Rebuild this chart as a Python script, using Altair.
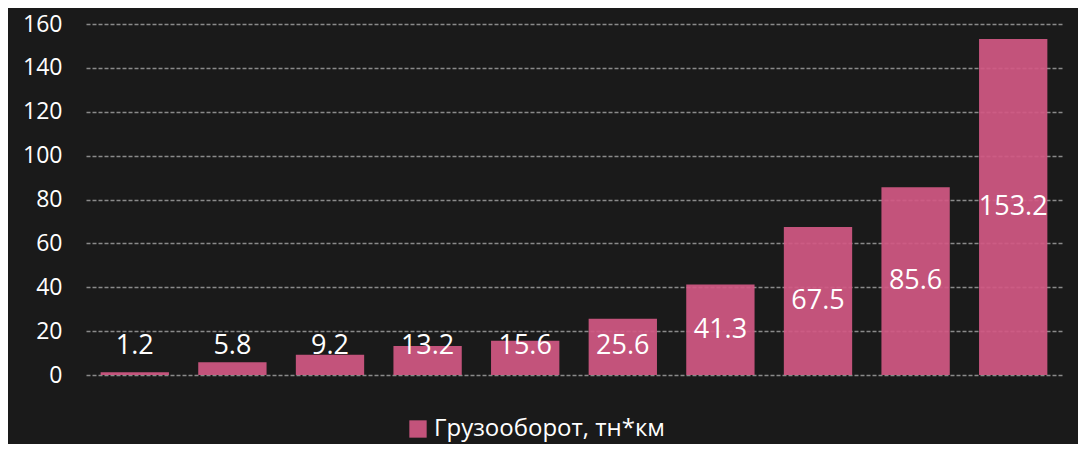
import altair as alt
import pandas as pd

categories = ["c1", "c2", "c3", "c4", "c5", "c6", "c7", "c8", "c9", "c10"]
values = [1.2, 5.8, 9.2, 13.2, 15.6, 25.6, 41.3, 67.5, 85.6, 153.2]
labels = ["1.2", "5.8", "9.2", "13.2", "15.6", "25.6", "41.3", "67.5", "85.6", "153.2"]
series = "Грузооборот, тн*км"
y_ticks = [0, 20, 40, 60, 80, 100, 120, 140, 160]

df = pd.DataFrame({"cat": categories, "value": values, "label": labels, "series": [series] * len(values)})

FONT = "Open Sans"
BAR = "#d15883"

base = alt.Chart(df).encode(
    x=alt.X("cat:N", sort=categories, axis=None,
            scale=alt.Scale(paddingInner=0.3, paddingOuter=0.15)),
)

bars = base.mark_bar(opacity=0.93).encode(
    y=alt.Y("value:Q", scale=alt.Scale(domain=[0, 160], nice=False),
            axis=alt.Axis(values=y_ticks, title=None, grid=True, gridColor="#8a8a8a",
                          gridDash=[4, 2], gridWidth=1.5, domain=False, ticks=False,
                          labelColor="#ffffff", labelFont=FONT, labelFontSize=23,
                          labelPadding=24)),
    color=alt.Color("series:N", scale=alt.Scale(range=[BAR]),
                    legend=alt.Legend(title=None, orient="none", legendX=320, legendY=393,
                                      symbolType="square", symbolSize=300,
                                      symbolStrokeWidth=0, labelColor="#ffffff",
                                      labelFont=FONT, labelFontSize=24, labelLimit=0)),
)

text = base.transform_calculate(
    ypos="max(datum.value / 2, 13.3)"
).mark_text(color="#ffffff", font=FONT, fontSize=27, baseline="middle").encode(
    y=alt.Y("ypos:Q"),
    text="label:N",
)

chart = alt.layer(bars, text).properties(
    width=976, height=351, background="#1a1a1a",
    autosize=alt.AutoSizeParams(type="none"),
    padding={"left": 78, "top": 16, "right": 16, "bottom": 69},
).configure_view(stroke=None).configure_axis(gridOpacity=1)

chart.save("out.html", embed_options={"renderer": "svg", "actions": False})
